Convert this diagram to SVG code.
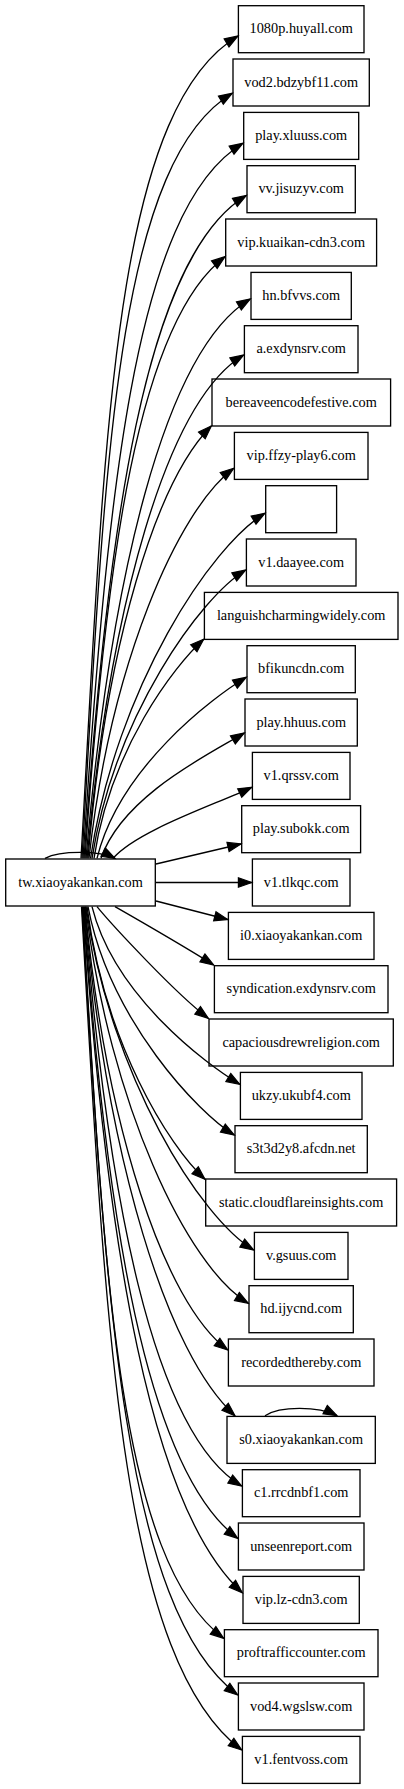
<svg xmlns="http://www.w3.org/2000/svg" width="404" height="1789" viewBox="0 0 404 1789">
<defs>
<marker id="ah" markerUnits="userSpaceOnUse" markerWidth="16" markerHeight="12" refX="13.3" refY="5" orient="auto" overflow="visible">
<path d="M0,0.3 L13.3,5 L0,9.7 Z" fill="#000" stroke="#000" stroke-width="1.2"/>
</marker>
<style>
.n rect{fill:#fff;stroke:#000;stroke-width:1.33}
.n text{font-family:"Liberation Serif","Times New Roman",serif;font-size:14.3px;text-anchor:middle;fill:#000}
#edges path{fill:none;stroke:#000;stroke-width:1.33;marker-end:url(#ah)}
</style>
</defs>
<rect width="404" height="1789" fill="#fff"/>
<g id="nodes">
<g id="src" class="n"><rect x="5.7" y="859" width="149.6" height="47"/><text x="80.5" y="886.7">tw.xiaoyakankan.com</text></g>
<g id="n0" class="n"><rect x="238.4" y="5.7" width="125.6" height="47"/><text x="301.2" y="33.4">1080p.huyall.com</text></g>
<g id="n1" class="n"><rect x="233" y="59" width="136.3" height="47"/><text x="301.2" y="86.7">vod2.bdzybf11.com</text></g>
<g id="n2" class="n"><rect x="243.7" y="112.4" width="115" height="47"/><text x="301.2" y="140.1">play.xluuss.com</text></g>
<g id="n3" class="n"><rect x="247" y="165.7" width="108.3" height="47"/><text x="301.2" y="193.4">vv.jisuzyv.com</text></g>
<g id="n4" class="n"><rect x="225.7" y="219" width="150.9" height="47"/><text x="301.2" y="246.7">vip.kuaikan-cdn3.com</text></g>
<g id="n5" class="n"><rect x="251" y="272.4" width="100.3" height="47"/><text x="301.2" y="300.1">hn.bfvvs.com</text></g>
<g id="n6" class="n"><rect x="244.4" y="325.7" width="113.6" height="47"/><text x="301.2" y="353.4">a.exdynsrv.com</text></g>
<g id="n7" class="n"><rect x="212" y="379" width="178.6" height="47"/><text x="301.2" y="406.7">bereaveencodefestive.com</text></g>
<g id="n8" class="n"><rect x="234.4" y="432.4" width="133.6" height="47"/><text x="301.2" y="460.1">vip.ffzy-play6.com</text></g>
<g id="n9" class="n"><rect x="265.7" y="485.7" width="70.9" height="47"/></g>
<g id="n10" class="n"><rect x="246.4" y="539" width="109.6" height="47"/><text x="301.2" y="566.7">v1.daayee.com</text></g>
<g id="n11" class="n"><rect x="204.4" y="592.4" width="193.6" height="47"/><text x="301.2" y="620.1">languishcharmingwidely.com</text></g>
<g id="n12" class="n"><rect x="247" y="645.7" width="108.3" height="47"/><text x="301.2" y="673.4">bfikuncdn.com</text></g>
<g id="n13" class="n"><rect x="245" y="699" width="112.3" height="47"/><text x="301.2" y="726.7">play.hhuus.com</text></g>
<g id="n14" class="n"><rect x="252.4" y="752.4" width="97.6" height="47"/><text x="301.2" y="780.1">v1.qrssv.com</text></g>
<g id="n15" class="n"><rect x="241.7" y="805.7" width="118.9" height="47"/><text x="301.2" y="833.4">play.subokk.com</text></g>
<g id="n16" class="n"><rect x="252.4" y="859" width="97.6" height="47"/><text x="301.2" y="886.7">v1.tlkqc.com</text></g>
<g id="n17" class="n"><rect x="228.4" y="912.4" width="145.6" height="47"/><text x="301.2" y="940.1">i0.xiaoyakankan.com</text></g>
<g id="n18" class="n"><rect x="214.4" y="965.7" width="173.6" height="47"/><text x="301.2" y="993.4">syndication.exdynsrv.com</text></g>
<g id="n19" class="n"><rect x="209" y="1019" width="184.3" height="47"/><text x="301.2" y="1046.7">capaciousdrewreligion.com</text></g>
<g id="n20" class="n"><rect x="240.4" y="1072.4" width="121.6" height="47"/><text x="301.2" y="1100.1">ukzy.ukubf4.com</text></g>
<g id="n21" class="n"><rect x="235" y="1125.7" width="132.3" height="47"/><text x="301.2" y="1153.4">s3t3d2y8.afcdn.net</text></g>
<g id="n22" class="n"><rect x="205.7" y="1179" width="190.9" height="47"/><text x="301.2" y="1206.7">static.cloudflareinsights.com</text></g>
<g id="n23" class="n"><rect x="254.4" y="1232.4" width="93.6" height="47"/><text x="301.2" y="1260.1">v.gsuus.com</text></g>
<g id="n24" class="n"><rect x="249" y="1285.7" width="104.3" height="47"/><text x="301.2" y="1313.4">hd.ijycnd.com</text></g>
<g id="n25" class="n"><rect x="228.4" y="1339" width="145.6" height="47"/><text x="301.2" y="1366.7">recordedthereby.com</text></g>
<g id="n26" class="n"><rect x="227" y="1416.4" width="148.3" height="47"/><text x="301.2" y="1444.1">s0.xiaoyakankan.com</text></g>
<g id="n27" class="n"><rect x="242.4" y="1469.7" width="117.6" height="47"/><text x="301.2" y="1497.4">c1.rrcdnbf1.com</text></g>
<g id="n28" class="n"><rect x="238.4" y="1523" width="125.6" height="47"/><text x="301.2" y="1550.7">unseenreport.com</text></g>
<g id="n29" class="n"><rect x="243" y="1576.4" width="116.3" height="47"/><text x="301.2" y="1604.1">vip.lz-cdn3.com</text></g>
<g id="n30" class="n"><rect x="224.4" y="1629.7" width="153.6" height="47"/><text x="301.2" y="1657.4">proftrafficcounter.com</text></g>
<g id="n31" class="n"><rect x="238.4" y="1683" width="125.6" height="47"/><text x="301.2" y="1710.7">vod4.wgslsw.com</text></g>
<g id="n32" class="n"><rect x="242.4" y="1736.4" width="117.6" height="47"/><text x="301.2" y="1764.1">v1.fentvoss.com</text></g>
</g>
<g id="edges">
<path d="M45,858.3 C60,850.5 100,850.5 115,858.3"/>
<path d="M265,1415.7 C280,1406 318,1406 337,1415.7"/>
<path d="M81,858.3 C104.6,447.2 111.2,112.1 238,36"/>
<path d="M82,858.3 C104.5,475.8 114.3,164.1 232.3,93.3"/>
<path d="M83,858.3 C107,500.8 132.7,209.5 243,143.3"/>
<path d="M84,858.3 C108.3,527 144.1,256.8 246.3,195.5"/>
<path d="M85,858.3 C106,557.5 138.4,321.7 225,256.7"/>
<path d="M86,858.3 C110.6,578.7 164,350.8 250.3,299"/>
<path d="M87,858.3 C110.5,606.7 166.1,401.6 243.7,355"/>
<path d="M88,858.3 C106.5,642.2 156.3,481 211.3,426"/>
<path d="M89,858.3 C110.7,663.3 177.5,510.4 233.7,468.3"/>
<path d="M90.5,858.3 C116.7,685.8 211.8,545.2 265,513.3"/>
<path d="M92,858.3 C115.1,714.2 201.2,596.7 245.7,570"/>
<path d="M94,858.3 C110.5,748.8 174.1,666.1 203.7,639.3"/>
<path d="M97,858.3 C119.4,767.8 212,697.9 246.3,677.3"/>
<path d="M101,858.3 C122.5,795.7 210,753.6 244.3,733"/>
<path d="M113,858.3 C138,830 215.7,804.5 251.7,787.3"/>
<path d="M156,864 L241,844"/>
<path d="M156,882.5 L251.7,882.5"/>
<path d="M156,901 L227.7,919.5"/>
<path d="M115,906.7 C140,921 180,944 213.7,965"/>
<path d="M97,906.7 C112,925 176.3,994.3 208.3,1018.3"/>
<path d="M92,906.7 C114.2,995.5 205.4,1063.7 239.7,1084.3"/>
<path d="M88,906.7 C110,1020.9 199.1,1113.9 234.3,1135"/>
<path d="M87,906.7 C104.7,1043 168.7,1146.4 205,1179.3"/>
<path d="M86,906.7 C111.2,1078.4 200.7,1218.2 253.7,1250"/>
<path d="M85.5,906.7 C109.9,1105 187.1,1266.6 248.3,1303.3"/>
<path d="M85,906.7 C106.4,1128.4 163.9,1302.1 227.7,1350"/>
<path d="M84.5,906.7 C107.1,1161.2 167.2,1354.3 235,1415.7"/>
<path d="M84,906.7 C107.7,1196.4 152.3,1432.4 241.7,1486"/>
<path d="M83.5,906.7 C106.6,1222.5 146.7,1470.1 237.7,1538.3"/>
<path d="M83,906.7 C106.9,1249.7 150.9,1510 242.3,1592.7"/>
<path d="M82.5,906.7 C103.7,1272.5 118.3,1559.3 223.7,1638.3"/>
<path d="M82,906.7 C105.4,1300.9 124.2,1609.9 237.7,1695"/>
<path d="M81.5,906.7 C105.5,1328.4 120.3,1658.9 241.7,1750"/>
</g>
</svg>
